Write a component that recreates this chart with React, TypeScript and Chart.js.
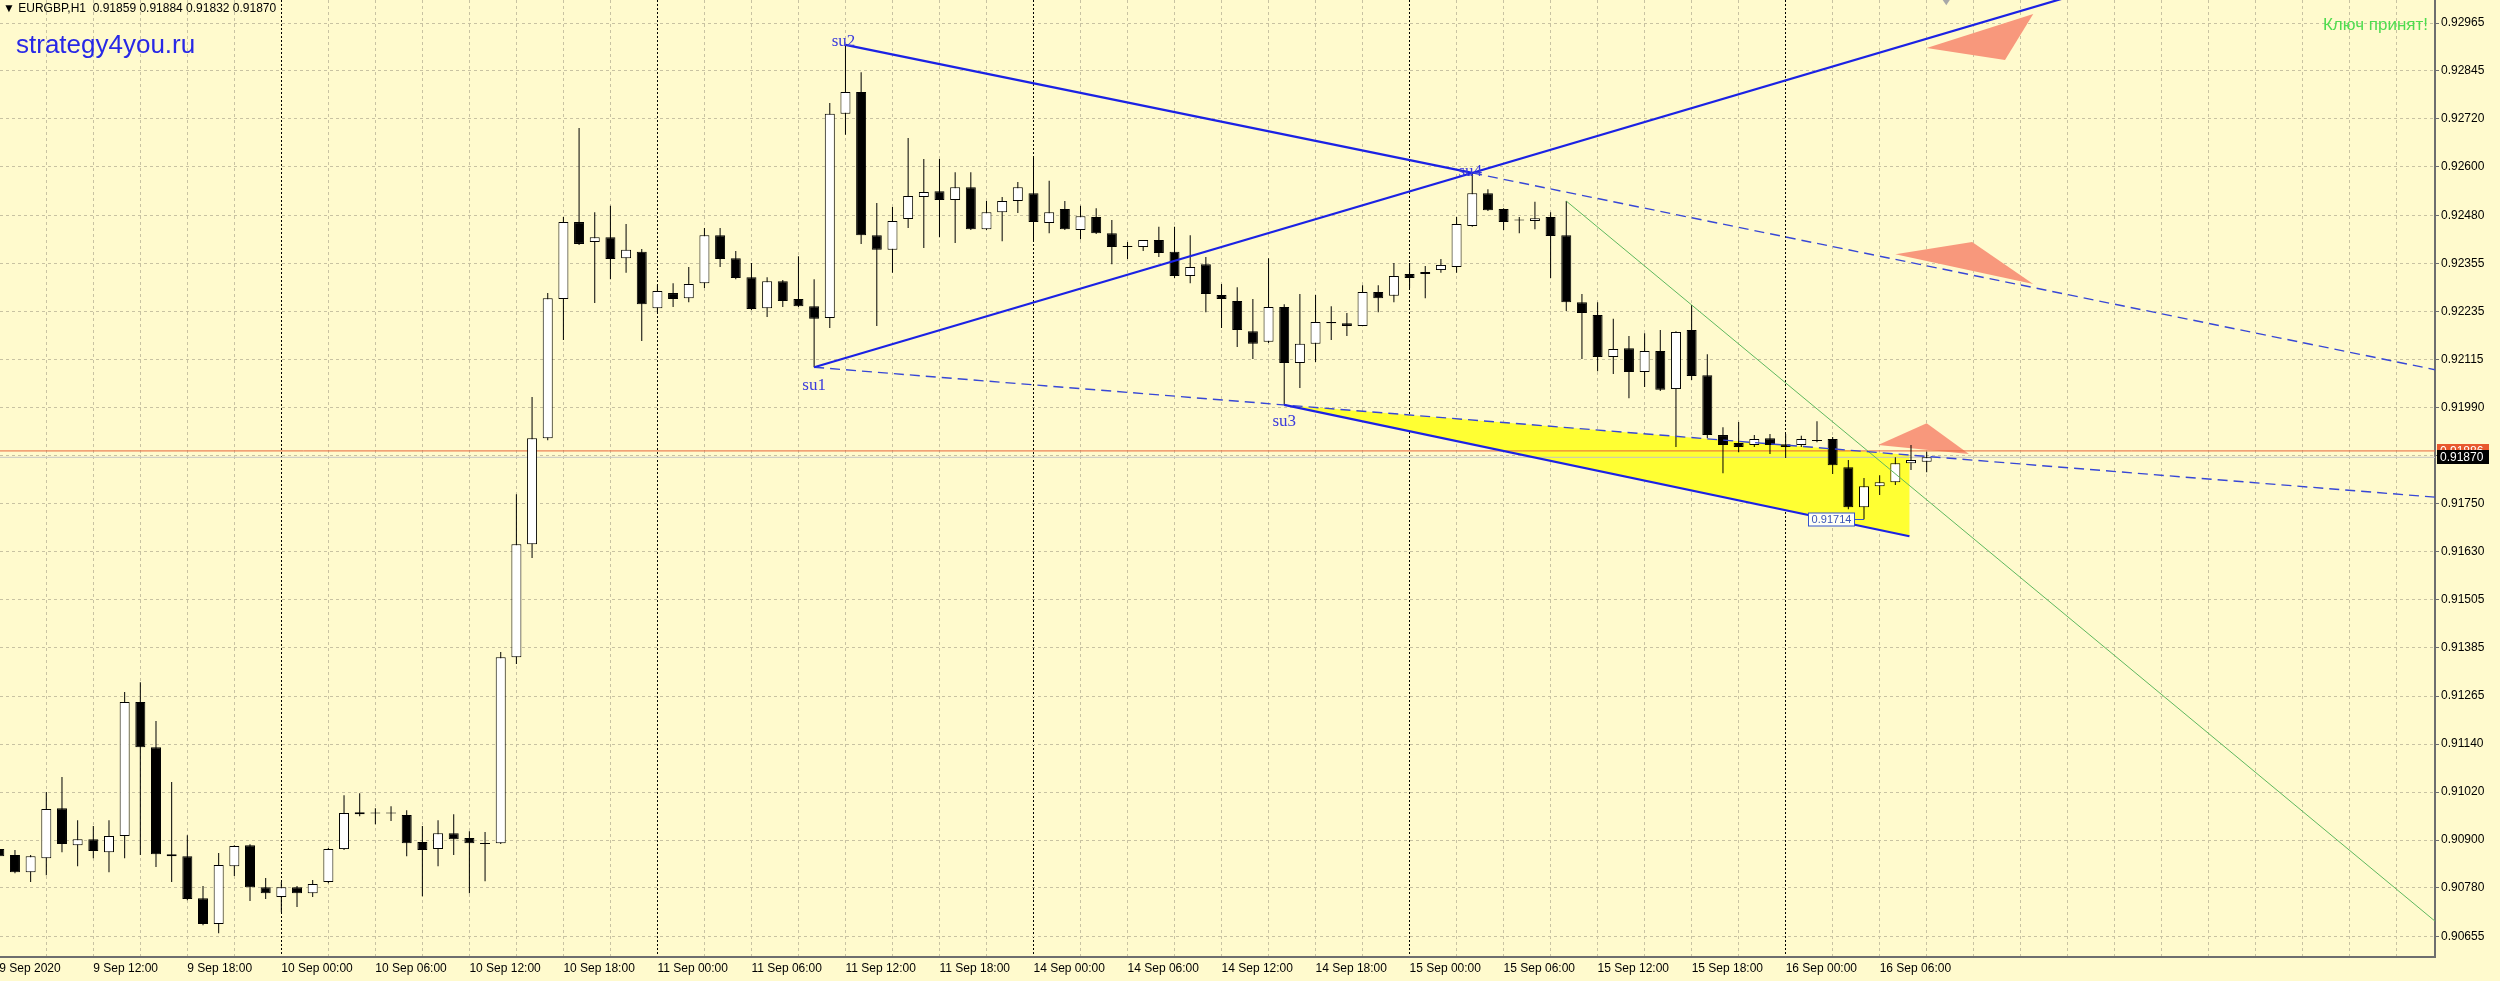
import React, { useEffect, useRef } from 'react';
import { Chart, registerables } from 'chart.js';

Chart.register(...registerables);

// ---------------- data (EURGBP H1, bar 0 = 9 Sep 2020 06:00) ----------------
const opens = [
  0.90882, 0.90867, 0.90824, 0.90859, 0.90985, 0.90892, 0.90907, 0.90874, 0.90915, 0.91253,
  0.91139, 0.90869, 0.90864, 0.90758, 0.90693, 0.90839, 0.90892, 0.90786, 0.90761, 0.90786,
  0.90771, 0.90799, 0.90882, 0.90975, 0.90973, 0.90972, 0.90968, 0.90900, 0.90882, 0.90922,
  0.90910, 0.90897, 0.90897, 0.91366, 0.91651, 0.91918, 0.92269, 0.92463, 0.92413, 0.92425,
  0.92372, 0.92388, 0.92246, 0.92284, 0.92271, 0.92309, 0.92430, 0.92372, 0.92324, 0.92246,
  0.92314, 0.92269, 0.92251, 0.92221, 0.92736, 0.92791, 0.92430, 0.92393, 0.92471, 0.92526,
  0.92541, 0.92519, 0.92551, 0.92445, 0.92488, 0.92516, 0.92536, 0.92461, 0.92496, 0.92443,
  0.92476, 0.92435, 0.92400, 0.92400, 0.92418, 0.92388, 0.92327, 0.92357, 0.92279, 0.92264,
  0.92188, 0.92161, 0.92249, 0.92108, 0.92156, 0.92211, 0.92208, 0.92201, 0.92287, 0.92277,
  0.92332, 0.92332, 0.92342, 0.92350, 0.92453, 0.92536, 0.92496, 0.92468, 0.92466, 0.92476,
  0.92430, 0.92261, 0.92229, 0.92123, 0.92145, 0.92085, 0.92138, 0.92042, 0.92191, 0.92077,
  0.91926, 0.91906, 0.91901, 0.91918, 0.91903, 0.91901, 0.91913, 0.91916, 0.91845, 0.91744,
  0.91797, 0.91807, 0.91855, 0.91859,
];
const highs = [
  0.90892, 0.90880, 0.90867, 0.91026, 0.91064, 0.90955, 0.90940, 0.90955, 0.91278, 0.91303,
  0.91205, 0.91051, 0.90917, 0.90789, 0.90872, 0.90892, 0.90894, 0.90809, 0.90799, 0.90789,
  0.90804, 0.90885, 0.91018, 0.91023, 0.90985, 0.90990, 0.90980, 0.90940, 0.90955, 0.90970,
  0.90927, 0.90925, 0.91379, 0.91777, 0.92022, 0.92284, 0.92476, 0.92700, 0.92488, 0.92504,
  0.92458, 0.92395, 0.92304, 0.92309, 0.92350, 0.92448, 0.92448, 0.92390, 0.92360, 0.92324,
  0.92317, 0.92377, 0.92319, 0.92763, 0.92910, 0.92841, 0.92511, 0.92501, 0.92675, 0.92622,
  0.92622, 0.92589, 0.92589, 0.92516, 0.92526, 0.92564, 0.92625, 0.92567, 0.92516, 0.92504,
  0.92498, 0.92468, 0.92413, 0.92418, 0.92451, 0.92451, 0.92430, 0.92375, 0.92307, 0.92299,
  0.92269, 0.92372, 0.92256, 0.92282, 0.92279, 0.92251, 0.92234, 0.92304, 0.92304, 0.92360,
  0.92360, 0.92352, 0.92370, 0.92476, 0.92587, 0.92546, 0.92498, 0.92476, 0.92514, 0.92488,
  0.92516, 0.92282, 0.92261, 0.92219, 0.92176, 0.92183, 0.92191, 0.92188, 0.92254, 0.92130,
  0.91946, 0.91959, 0.91926, 0.91929, 0.91929, 0.91924, 0.91961, 0.91921, 0.91863, 0.91818,
  0.91825, 0.91870, 0.91901, 0.91884,
];
const lows = [
  0.90854, 0.90821, 0.90799, 0.90816, 0.90874, 0.90839, 0.90859, 0.90824, 0.90859, 0.90867,
  0.90837, 0.90799, 0.90753, 0.90690, 0.90670, 0.90814, 0.90751, 0.90756, 0.90723, 0.90736,
  0.90761, 0.90796, 0.90880, 0.90965, 0.90945, 0.90953, 0.90864, 0.90763, 0.90839, 0.90867,
  0.90771, 0.90801, 0.90895, 0.91349, 0.91616, 0.91913, 0.92166, 0.92405, 0.92259, 0.92319,
  0.92335, 0.92163, 0.92236, 0.92249, 0.92261, 0.92297, 0.92350, 0.92319, 0.92241, 0.92224,
  0.92249, 0.92249, 0.92097, 0.92196, 0.92683, 0.92408, 0.92201, 0.92335, 0.92448, 0.92398,
  0.92425, 0.92410, 0.92443, 0.92443, 0.92415, 0.92486, 0.92413, 0.92435, 0.92443, 0.92420,
  0.92433, 0.92357, 0.92370, 0.92390, 0.92375, 0.92322, 0.92309, 0.92236, 0.92196, 0.92148,
  0.92118, 0.92158, 0.92002, 0.92045, 0.92110, 0.92166, 0.92176, 0.92201, 0.92236, 0.92261,
  0.92297, 0.92271, 0.92335, 0.92335, 0.92451, 0.92491, 0.92443, 0.92435, 0.92445, 0.92322,
  0.92239, 0.92118, 0.92087, 0.92080, 0.92019, 0.92047, 0.92037, 0.91896, 0.92065, 0.91918,
  0.91830, 0.91883, 0.91896, 0.91878, 0.91868, 0.91896, 0.91908, 0.91828, 0.91739, 0.91714,
  0.91775, 0.91800, 0.91838, 0.91832,
];
const closes = [
  0.90864, 0.90824, 0.90864, 0.90983, 0.90895, 0.90907, 0.90877, 0.90915, 0.91253, 0.91139,
  0.90869, 0.90864, 0.90756, 0.90693, 0.90842, 0.90890, 0.90786, 0.90771, 0.90786, 0.90771,
  0.90794, 0.90882, 0.90973, 0.90970, 0.90972, 0.90973, 0.90897, 0.90880, 0.90922, 0.90907,
  0.90897, 0.90895, 0.91366, 0.91651, 0.91918, 0.92271, 0.92463, 0.92408, 0.92425, 0.92370,
  0.92393, 0.92256, 0.92289, 0.92269, 0.92307, 0.92430, 0.92370, 0.92322, 0.92244, 0.92314,
  0.92264, 0.92251, 0.92219, 0.92736, 0.92791, 0.92430, 0.92393, 0.92466, 0.92529, 0.92539,
  0.92519, 0.92551, 0.92445, 0.92488, 0.92516, 0.92551, 0.92463, 0.92488, 0.92445, 0.92478,
  0.92435, 0.92400, 0.92401, 0.92418, 0.92385, 0.92327, 0.92350, 0.92282, 0.92269, 0.92191,
  0.92156, 0.92249, 0.92108, 0.92156, 0.92211, 0.92208, 0.92201, 0.92287, 0.92271, 0.92327,
  0.92322, 0.92337, 0.92355, 0.92458, 0.92536, 0.92493, 0.92463, 0.92467, 0.92473, 0.92428,
  0.92261, 0.92234, 0.92123, 0.92143, 0.92085, 0.92138, 0.92040, 0.92186, 0.92075, 0.91926,
  0.91901, 0.91896, 0.91916, 0.91901, 0.91896, 0.91916, 0.91911, 0.91850, 0.91744, 0.91797,
  0.91807, 0.91855, 0.91863, 0.91870,
];

const xLabelBars = [0, 6, 12, 18, 24, 30, 36, 42, 48, 54, 60, 66, 72, 78, 84, 90, 96, 102, 108, 114, 120];
const xLabels = [
  '9 Sep 2020', '9 Sep 12:00', '9 Sep 18:00', '10 Sep 00:00', '10 Sep 06:00', '10 Sep 12:00',
  '10 Sep 18:00', '11 Sep 00:00', '11 Sep 06:00', '11 Sep 12:00', '11 Sep 18:00', '14 Sep 00:00',
  '14 Sep 06:00', '14 Sep 12:00', '14 Sep 18:00', '15 Sep 00:00', '15 Sep 06:00', '15 Sep 12:00',
  '15 Sep 18:00', '16 Sep 00:00', '16 Sep 06:00',
];
const daySeparatorBars = [18, 42, 66, 90, 114];

const yTickLabels = [
  '0.92965', '0.92845', '0.92720', '0.92600', '0.92480', '0.92355', '0.92235', '0.92115',
  '0.91990', '0.91870', '0.91750', '0.91630', '0.91505', '0.91385', '0.91265', '0.91140',
  '0.91020', '0.90900', '0.90780', '0.90655',
];
const yTickValues = [
  0.92965, 0.92844, 0.92723, 0.92602, 0.92480, 0.92359, 0.92238, 0.92117,
  0.91996, 0.91874, 0.91753, 0.91632, 0.91511, 0.91390, 0.91268, 0.91147,
  0.91026, 0.90905, 0.90784, 0.90662,
];

const suNames = ['su1', 'su2', 'su3', 'su4'];
const suBars = [52, 54, 82, 94];
const suPrices = [0.92097, 0.92910, 0.92002, 0.92587];

const channelEndBar = 121.9;
const channelEndPrice = 0.91671;
const greenBars = [100, 108];
const greenPrices = [0.92516, 0.92254];

const triangleBars = [
  [123.0, 129.8, 128.0],
  [121.0, 125.9, 129.8],
  [119.9, 123.0, 125.7],
];
const trianglePrices = [
  [0.92902, 0.92988, 0.92872],
  [0.92382, 0.92413, 0.92307],
  [0.91901, 0.91956, 0.91878],
];
const markerBars = [123.9, 124.6, 124.25];
const markerPrices = [0.93030, 0.93030, 0.93010];

const bidPrice = 0.91870;
const askPrice = 0.91886;
const lowLabelBar = 119;
const lowLabelPrice = 0.91714;

const headerText = '\u25BC EURGBP,H1  0.91859 0.91884 0.91832 0.91870';
const siteText = 'strategy4you.ru';
const keyText = 'Ключ принят!';

// ---------------- view ----------------
const X_MIN = 0.045;
const X_MAX = 155.44;
const Y_MIN = 0.9061;
const Y_MAX = 0.93023;
const RAY_END = 165;
const BG = '#FFFACD';

const lineAt = (b0: number, p0: number, b1: number, p1: number, b: number) =>
  p0 + ((p1 - p0) * (b - b0)) / (b1 - b0);

export default function App() {
  const ref = useRef<HTMLCanvasElement>(null);

  useEffect(() => {
    const canvas = ref.current;
    if (!canvas) return;
    const n = opens.length;
    const idx = Array.from({ length: n }, (_, i) => i);
    const bull = idx.map((i) => closes[i] > opens[i]);
    const daySet = new Set(daySeparatorBars);
    const labelMap = new Map<number, string>();
    xLabelBars.forEach((b, i) => labelMap.set(b, xLabels[i]));

    const line = (data: any[], color: string, width: number, dash: number[], order: number) => ({
      type: 'line' as const,
      data,
      borderColor: color,
      borderWidth: width,
      borderDash: dash,
      pointRadius: 0,
      pointHoverRadius: 0,
      fill: false,
      tension: 0,
      order,
    });
    const poly = (bars: number[], prices: number[], color: string, order: number) => ({
      type: 'line' as const,
      data: [...bars.map((b, i) => ({ x: b, y: prices[i] })), { x: bars[0], y: prices[0] }],
      borderColor: 'rgba(0,0,0,0)',
      borderWidth: 0,
      backgroundColor: color,
      pointRadius: 0,
      fill: 'shape',
      tension: 0,
      order,
    });

    const [s1b, s2b, s3b, s4b] = suBars;
    const [s1p, s2p, s3p, s4p] = suPrices;
    const dashedLowAt = (b: number) => lineAt(s1b, s1p, s3b, s3p, b);

    const datasets: any[] = [
      // yellow zone
      poly([s3b, channelEndBar, channelEndBar], [s3p, dashedLowAt(channelEndBar), channelEndPrice], '#FFFF33', 30),
      ...triangleBars.map((tb, i) => poly(tb, trianglePrices[i], '#F8987C', 29)),
      poly(markerBars, markerPrices, '#A8A8A8', 29),
      // price lines
      line([{ x: -5, y: askPrice }, { x: RAY_END, y: askPrice }], '#E8643A', 1, [], 25),
      line([{ x: -5, y: bidPrice }, { x: RAY_END, y: bidPrice }], '#C4C4C4', 1, [], 25),
      // candle wicks
      {
        type: 'bar' as const,
        data: idx.map((i) => ({ x: i, y: [lows[i], highs[i]] })),
        backgroundColor: '#000000',
        borderWidth: 0,
        barThickness: 1,
        maxBarThickness: 1,
        grouped: false,
        inflateAmount: 0,
        order: 12,
      },
      // candle bodies
      {
        type: 'bar' as const,
        data: idx.map((i) => ({ x: i, y: [opens[i], closes[i]] })),
        backgroundColor: bull.map((b) => (b ? '#FFFFFF' : '#000000')),
        borderColor: '#000000',
        borderWidth: 1,
        borderSkipped: false,
        barThickness: 10,
        maxBarThickness: 10,
        minBarLength: 1,
        grouped: false,
        inflateAmount: 0,
        order: 11,
      },
      // green line (ray through bar highs)
      line(
        [
          { x: greenBars[0], y: greenPrices[0] },
          { x: RAY_END, y: lineAt(greenBars[0], greenPrices[0], greenBars[1], greenPrices[1], RAY_END) },
        ],
        '#5FB85F',
        1,
        [],
        5,
      ),
      // dashed su1 -> su3 ray
      line([{ x: s1b, y: s1p }, { x: RAY_END, y: dashedLowAt(RAY_END) }], '#3747D6', 1.4, [10, 6], 4),
      // dashed extension su2 -> su4 ray
      line([{ x: s4b, y: s4p }, { x: RAY_END, y: lineAt(s2b, s2p, s4b, s4p, RAY_END) }], '#3747D6', 1.4, [10, 6], 4),
      // solid su1 -> su4 ray
      line([{ x: s1b, y: s1p }, { x: RAY_END, y: lineAt(s1b, s1p, s4b, s4p, RAY_END) }], '#1B22E4', 2.2, [], 2),
      // solid su2 -> su4
      line([{ x: s2b, y: s2p }, { x: s4b, y: s4p }], '#1B22E4', 2.2, [], 2),
      // solid su3 -> channel end
      line([{ x: s3b, y: s3p }, { x: channelEndBar, y: channelEndPrice }], '#1B22E4', 2.2, [], 2),
    ];

    const bgPlugin = {
      id: 'bgfill',
      beforeDraw(chart: any) {
        const c = chart.ctx;
        c.save();
        c.fillStyle = BG;
        c.fillRect(0, 0, chart.width, chart.height);
        c.restore();
      },
    };

    const annotPlugin = {
      id: 'annot',
      afterDatasetsDraw(chart: any) {
        const { ctx, scales } = chart;
        const xs = scales.x;
        const ys = scales.y;
        ctx.save();
        // su labels
        const dx = [0, -2, 0, -2];
        const dy = [18, -3, 17, -1];
        ctx.font = '17px "Liberation Serif", serif';
        ctx.fillStyle = '#3A3ADC';
        ctx.textAlign = 'center';
        ctx.textBaseline = 'middle';
        suNames.forEach((s, i) => {
          ctx.fillText(s, xs.getPixelForValue(suBars[i]) + dx[i], ys.getPixelForValue(suPrices[i]) + dy[i]);
        });
        // low price label
        const lx = xs.getPixelForValue(lowLabelBar);
        const ly = Math.round(ys.getPixelForValue(lowLabelPrice)) + 0.5;
        const bw = 46;
        const bh = 13;
        const bx = Math.round(lx - 10 - bw) + 0.5;
        ctx.fillStyle = '#FFFFF4';
        ctx.fillRect(bx, ly - bh / 2, bw, bh);
        ctx.strokeStyle = '#3352CC';
        ctx.lineWidth = 1;
        ctx.strokeRect(bx, ly - bh / 2, bw, bh);
        ctx.beginPath();
        ctx.moveTo(bx + bw, ly);
        ctx.lineTo(lx, ly);
        ctx.stroke();
        ctx.font = '11px "Liberation Sans", sans-serif';
        ctx.fillStyle = '#3A55B8';
        ctx.textAlign = 'center';
        ctx.fillText(lowLabelPrice.toFixed(5), bx + bw / 2, ly + 0.5);
        ctx.restore();
      },
      afterDraw(chart: any) {
        const { ctx, chartArea, scales } = chart;
        const ys = scales.y;
        ctx.save();
        ctx.textBaseline = 'middle';
        // header
        ctx.font = '12px "Liberation Sans", "DejaVu Sans", sans-serif';
        ctx.fillStyle = '#000000';
        ctx.textAlign = 'left';
        ctx.fillText(headerText, 3, 9);
        // site watermark
        ctx.font = '26px "Liberation Sans", sans-serif';
        ctx.fillStyle = '#2828E6';
        ctx.fillText(siteText, 16, 46);
        // key text
        ctx.font = '17px "Liberation Sans", sans-serif';
        ctx.fillStyle = '#4FDC4F';
        ctx.textAlign = 'right';
        ctx.fillText(keyText, chartArea.right - 7, 25);
        // price boxes on the axis
        const boxX = chartArea.right + 2;
        const boxW = 52;
        const boxH = 14;
        const ay = ys.getPixelForValue(askPrice);
        const by = ys.getPixelForValue(bidPrice);
        ctx.font = '12px "Liberation Sans", sans-serif';
        ctx.textAlign = 'left';
        ctx.fillStyle = '#E8582E';
        ctx.fillRect(boxX, Math.round(ay - boxH / 2), boxW, boxH);
        ctx.fillStyle = '#FFFFFF';
        ctx.fillText(askPrice.toFixed(5), boxX + 3, ay + 0.5);
        ctx.fillStyle = '#000000';
        ctx.fillRect(boxX, Math.round(by - boxH / 2), boxW, boxH);
        ctx.fillStyle = '#FFFFFF';
        ctx.fillText(bidPrice.toFixed(5), boxX + 3, by + 0.5);
        ctx.restore();
      },
    };

    const chart = new Chart(canvas, {
      type: 'bar',
      data: { datasets },
      options: {
        animation: false,
        responsive: false,
        devicePixelRatio: 1,
        events: [],
        layout: { padding: 0 },
        plugins: {
          legend: { display: false },
          tooltip: { enabled: false },
          title: { display: false },
        },
        scales: {
          x: {
            type: 'linear',
            min: X_MIN,
            max: X_MAX,
            offset: false,
            position: 'bottom',
            afterBuildTicks: (scale: any) => {
              const t: any[] = [];
              for (let b = 0; b <= 153; b += 3) t.push({ value: b });
              scale.ticks = t;
            },
            afterFit: (scale: any) => {
              scale.height = 24;
              scale.paddingLeft = 0;
              scale.paddingRight = 0;
              scale.paddingTop = 0;
              scale.paddingBottom = 0;
            },
            grid: {
              offset: false,
              drawTicks: true,
              tickLength: 4,
              tickColor: 'rgba(0,0,0,0)',
              lineWidth: 1,
              color: (c: any) => (c.tick && daySet.has(c.tick.value) ? '#000000' : '#C8C2A2'),
            },
            border: {
              display: true,
              color: '#6E6E6E',
              width: 2,
              dash: (c: any) => (c.tick && daySet.has(c.tick.value) ? [2, 2] : [3, 3]),
            },
            ticks: {
              autoSkip: false,
              maxRotation: 0,
              minRotation: 0,
              align: 'start',
              padding: 0,
              color: '#000000',
              font: { family: '"Liberation Sans", sans-serif', size: 12 },
              callback: (v: any) => labelMap.get(Number(v)) ?? '',
            },
          },
          y: {
            type: 'linear',
            position: 'right',
            min: Y_MIN,
            max: Y_MAX,
            afterBuildTicks: (scale: any) => {
              scale.ticks = yTickValues.map((v) => ({ value: v }));
            },
            afterFit: (scale: any) => {
              scale.width = 65;
              scale.paddingLeft = 0;
              scale.paddingRight = 0;
              scale.paddingTop = 0;
              scale.paddingBottom = 0;
            },
            grid: {
              drawTicks: true,
              tickLength: 4,
              tickColor: '#6E6E6E',
              lineWidth: 1,
              color: '#C8C2A2',
            },
            border: { display: true, color: '#6E6E6E', width: 2, dash: [3, 3] },
            ticks: {
              autoSkip: false,
              padding: 2,
              color: '#000000',
              font: { family: '"Liberation Sans", sans-serif', size: 12 },
              callback: (_v: any, i: number) => yTickLabels[i] ?? '',
            },
          },
        },
      } as any,
      plugins: [bgPlugin, annotPlugin],
    });

    return () => chart.destroy();
  }, []);

  return (
    <div style={{ position: 'absolute', left: 0, top: 0, width: 2500, height: 981, background: BG }}>
      <canvas ref={ref} width={2500} height={981} style={{ display: 'block', width: 2500, height: 981 }} />
    </div>
  );
}
